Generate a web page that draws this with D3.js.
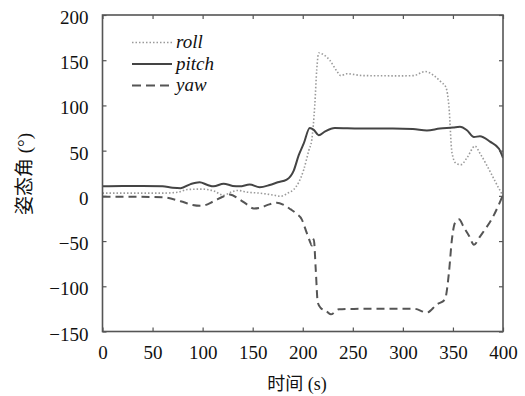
<!DOCTYPE html>
<html><head><meta charset="utf-8">
<script src="https://cdn.jsdelivr.net/npm/d3@7"></script>
<style>
body{margin:0;background:#fff;}
</style></head>
<body><svg id="c" width="525" height="396"></svg>
<script>
const xTicks=[0,50,100,150,200,250,300,350,400];
const yTicks=[-150,-100,-50,0,50,100,150,200];
const seriesNames=["roll","pitch","yaw"];

const pitchT=[0,20,40,60,70,78,88,97,105,111,121,130,137,147,157,167,175,184,191,196,201,207,211,216,222,232,257,290,310,324,337,350,357,364,371,377,387,396,400];
const pitchV=[10.5,11,11,10.5,9,8.5,13,15,12,10.5,13.5,11,10.5,12.5,9.5,12,15,18,28,45,58,75,73,67,71,75,74.5,74.5,74,72.3,74.5,75.5,76.4,72.5,65,66,60,52,42];

const rollT=[0,30,60,75,85,100,112,121,128,135,145,157,170,178,185,191,196,201,206,209,212,214,216,221,227,234,238,244,260,300,311,322,331,338,343,346,349,353,358,364,372,377,388,395,400];
const rollV=[3,3,3,4,7,7.5,5,0.5,4,6,4,3,1,-0.5,3,7,15,29,50,62,100,140,158,156,150,138,133,135,133,132.7,133,137.5,133,126,120,99,48,36,34.5,42,55,47,25,10,0];

const yawT=[0,30,60,78,90,99,111,120,127,137,145,151,158,165,174,181,188,194,199,204,207,209,211,213,215,218,223,228,236,250,300,311,324,334,342,346,349,352,356,361,366,371,377,391,400];
const yawV=[-1,-1,-1.5,-6,-10,-11,-6,-1,1.5,-4,-10,-14,-13,-10,-7.5,-10,-15,-20,-26,-41,-50,-55,-48,-82,-118,-124,-127,-131,-125.5,-125,-124.8,-124.8,-129,-120,-114.6,-85,-48,-30,-26,-35,-44,-54,-45,-21,1];

const SERIF="'Liberation Serif', Tinos, 'Times New Roman', 'DejaVu Serif', serif";
const CJK="'Liberation Serif', Tinos, 'Noto Sans CJK SC', serif";

const svg=d3.select("#c");
const L=102.5,R=503,T=15,B=331.5;
const x=d3.scaleLinear().domain([0,400]).range([L,R]);
const y=d3.scaleLinear().domain([-150,200]).range([B,T]);
const axisColor="#555";

svg.append("defs").append("clipPath").attr("id","clip").append("rect")
  .attr("x",L).attr("y",T).attr("width",R-L).attr("height",B-T);

const g=svg.append("g").attr("clip-path","url(#clip)");
const line=d3.line().x(d=>x(d[0])).y(d=>y(d[1])).curve(d3.curveMonotoneX);
const styles={
  roll:{stroke:"#9a9a9a",width:1.6,dash:"1.5,2"},
  pitch:{stroke:"#444",width:2,dash:null},
  yaw:{stroke:"#555",width:2,dash:"8,5"}
};
const data={roll:d3.zip(rollT,rollV),pitch:d3.zip(pitchT,pitchV),yaw:d3.zip(yawT,yawV)};
["roll","yaw","pitch"].forEach(k=>{
  const p=g.append("path").datum(data[k]).attr("d",line).attr("fill","none")
    .attr("stroke",styles[k].stroke).attr("stroke-width",styles[k].width)
    .attr("stroke-linejoin","round");
  if(styles[k].dash)p.attr("stroke-dasharray",styles[k].dash);
});

const ax=svg.append("g");
ax.append("g").attr("transform",`translate(0,${B})`)
  .call(d3.axisBottom(x).tickValues(xTicks).tickSize(-4).tickPadding(14).tickFormat(d3.format("d")));
ax.append("g").attr("transform",`translate(0,${T})`)
  .call(d3.axisTop(x).tickValues(xTicks).tickSize(-4).tickFormat(""));
const gl=ax.append("g").attr("transform",`translate(${L},0)`)
  .call(d3.axisLeft(y).tickValues(yTicks).tickSize(-4).tickPadding(14).tickFormat(d=>d<0?"\u2212"+Math.abs(d):d));
gl.selectAll("text").attr("dy","0.45em");
ax.append("g").attr("transform",`translate(${R},0)`)
  .call(d3.axisRight(y).tickValues(yTicks).tickSize(-4).tickFormat(""));
ax.selectAll("g").attr("font-family",null);
ax.selectAll(".domain").remove();
ax.selectAll("line").attr("stroke",axisColor).attr("stroke-width",1.2);
ax.selectAll("text").attr("font-size",19).attr("fill","#111").style("font-family",SERIF);
svg.append("rect").attr("x",L).attr("y",T).attr("width",R-L).attr("height",B-T)
  .attr("fill","none").attr("stroke",axisColor).attr("stroke-width",1.6);

const lg=svg.append("g");
seriesNames.forEach((k,i)=>{
  const yy=42.5+i*21.5;
  const l=lg.append("line").attr("x1",132).attr("x2",172).attr("y1",yy).attr("y2",yy)
    .attr("stroke",styles[k].stroke).attr("stroke-width",styles[k].width);
  if(styles[k].dash)l.attr("stroke-dasharray",k==="yaw"?"9,5":styles[k].dash);
  lg.append("text").attr("x",176).attr("y",yy+5.5).text(k)
    .attr("font-size",19).attr("font-style","italic").attr("fill","#111").style("font-family",SERIF);
});

svg.append("text").attr("x",297).attr("y",390).attr("text-anchor","middle")
  .attr("font-size",18).attr("fill","#111").style("font-family",CJK).text("时间 (s)");
svg.append("text").attr("transform","translate(31,174) rotate(-90)").attr("text-anchor","middle")
  .attr("font-size",19).attr("fill","#111").style("font-family",CJK).text("姿态角 (°)");
</script></body></html>
